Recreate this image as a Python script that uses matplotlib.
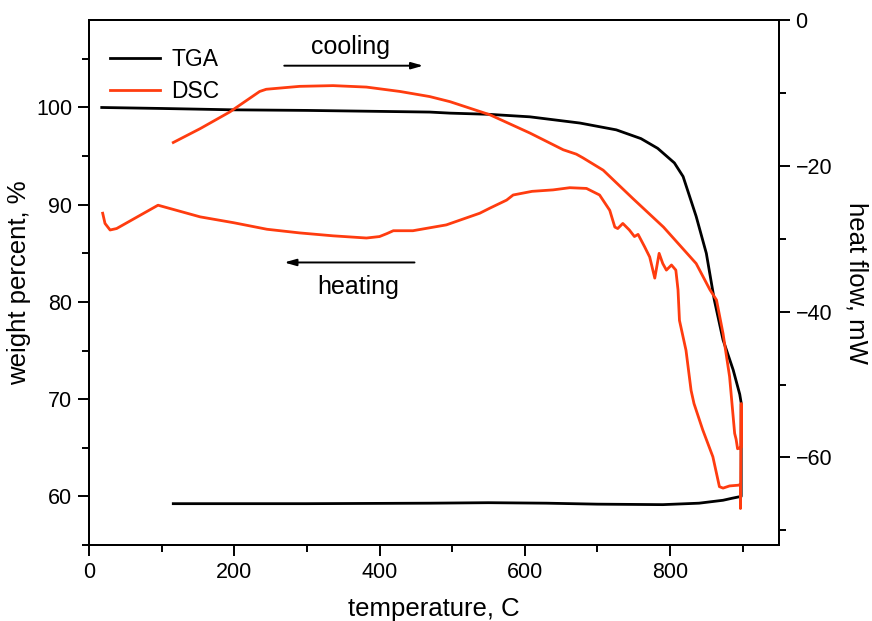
# -*- coding: utf-8 -*-
import numpy as np
import matplotlib
matplotlib.use('Agg')
import matplotlib.pyplot as plt
from matplotlib import ticker

plt.rcParams['font.family'] = ['Liberation Sans', 'DejaVu Sans']

# TGA: heating run, hold at 900 C, cooling run (weight %)
tga_temp = [17.5, 100, 199, 300, 400, 469, 497, 550, 607, 676, 726, 760, 783, 806,
            818, 836, 850, 861, 873, 887, 896, 898,
            898, 885, 873, 840, 790, 700, 630, 550, 469, 300, 116]
tga_weight = [100.0, 99.9, 99.76, 99.7, 99.6, 99.53, 99.42, 99.3, 99.04, 98.4, 97.7, 96.8, 95.8, 94.3,
              92.9, 88.8, 85.0, 80.2, 76.1, 73.0, 70.5, 69.6,
              60.0, 59.8, 59.6, 59.3, 59.15, 59.2, 59.3, 59.35, 59.3, 59.25, 59.25]

# DSC: heating run, hold, cooling run (heat flow, mW)
dsc_temp = [18.8, 22, 29, 38, 95, 153, 199, 245, 290, 336, 382, 400, 410, 419, 446, 492,
            538, 552, 575, 584, 610, 639, 662, 685, 703, 717, 724, 728, 735, 744, 751, 756,
            765, 772, 779, 785, 790, 795, 802, 808, 811, 813, 822, 829, 833, 845, 859, 868,
            873, 882, 894, 897, 897, 898, 898,
            893, 891, 889, 882, 873, 864, 855, 836, 791, 749, 708, 680, 671, 653, 607, 552,
            497, 469, 428, 382, 336, 290, 244, 235, 194, 153, 116]
dsc_flow = [-26.5, -27.9, -28.8, -28.6, -25.4, -27.0, -27.8, -28.7, -29.2, -29.6, -29.9, -29.7,
            -29.3, -28.9, -28.9, -28.1, -26.5, -25.8, -24.7, -24.0, -23.5, -23.3, -23.0, -23.1,
            -24.0, -26.1, -28.4, -28.6, -27.9, -28.8, -29.7, -29.4, -31.1, -32.5, -35.4, -32.0,
            -33.4, -34.3, -33.6, -34.3, -37.0, -41.2, -45.3, -50.8, -52.6, -56.2, -59.9, -64.0,
            -64.2, -63.9, -63.8, -63.7, -67.0, -52.6, -58.6,
            -58.8, -57.5, -56.7, -48.9, -43.0, -38.4, -37.0, -33.4, -28.4, -24.5, -20.6, -18.9,
            -18.4, -17.8, -15.5, -13.0, -11.2, -10.5, -9.8, -9.2, -9.0, -9.1, -9.5, -9.8, -12.6,
            -14.9, -16.8]

RED = '#ff3c0f'

fig = plt.figure(figsize=(8.72, 6.21), dpi=100)
ax = fig.add_axes([0.1021, 0.1224, 0.7912, 0.8454])
ax2 = ax.twinx()

l1, = ax.plot(tga_temp, tga_weight, c='black', lw=2.0, label='TGA')
l2, = ax2.plot(dsc_temp, dsc_flow, c=RED, lw=2.0, label='DSC')

ax.set(xlim=[0, 950], ylim=[55, 109])
ax2.set_ylim(-72, 0)

ax.xaxis.set_major_locator(ticker.FixedLocator([0, 200, 400, 600, 800]))
ax.xaxis.set_minor_locator(ticker.MultipleLocator(100))
ax.yaxis.set_major_locator(ticker.FixedLocator([60, 70, 80, 90, 100]))
ax.yaxis.set_minor_locator(ticker.MultipleLocator(5))
ax2.yaxis.set_major_locator(ticker.MultipleLocator(20))
ax2.yaxis.set_minor_locator(ticker.MultipleLocator(10))

for a in (ax, ax2):
    for s in a.spines.values():
        s.set_linewidth(1.4)
    a.tick_params(which='major', direction='out', length=8, width=1.4, labelsize=15.5, pad=4)
    a.tick_params(which='minor', direction='out', length=5, width=1.4)
ax.tick_params(which='both', top=False, right=False)

ax.set_xlabel('temperature, C', fontsize=18.5, labelpad=10)
ax.set_ylabel('weight percent, %', fontsize=18.5, labelpad=4)
ax2.set_ylabel('heat flow, mW', fontsize=18.5, rotation=270, labelpad=26)

leg = ax.legend(handles=[l1, l2], loc='upper left', frameon=False, fontsize=16.5,
                handlelength=2.2, handletextpad=0.5, labelspacing=0.36,
                bbox_to_anchor=(0.0, 0.985))

ax.annotate('', xy=(464, 104.3), xytext=(265, 104.3),
            arrowprops=dict(arrowstyle='-|>,head_length=0.7,head_width=0.2', color='black', lw=1.4))
ax.text(360, 106.2, 'cooling', fontsize=18, ha='center', va='center')
ax.annotate('', xy=(265, 84.06), xytext=(452, 84.06),
            arrowprops=dict(arrowstyle='-|>,head_length=0.7,head_width=0.2', color='black', lw=1.4))
ax.text(370, 81.5, 'heating', fontsize=18, ha='center', va='center')

plt.savefig('out.png', dpi=100)
